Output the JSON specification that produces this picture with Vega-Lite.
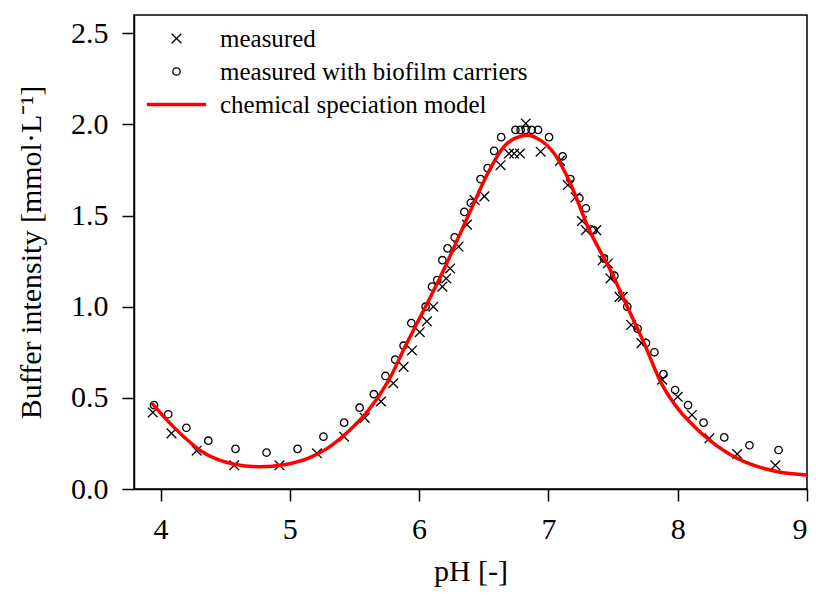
{
  "$schema": "https://vega.github.io/schema/vega-lite/v6.json",
  "autosize": {"type": "none"},
  "padding": {"left": 134, "top": 15, "right": 9, "bottom": 106},
  "width": 673,
  "height": 474,
  "background": "white",
  "datasets": {
    "points": [
      {"series": "measured", "pH": 3.94, "value": 0.42},
      {"series": "measured", "pH": 4.085, "value": 0.305},
      {"series": "measured", "pH": 4.28, "value": 0.21},
      {"series": "measured", "pH": 4.57, "value": 0.13},
      {"series": "measured", "pH": 4.92, "value": 0.13},
      {"series": "measured", "pH": 5.21, "value": 0.196},
      {"series": "measured", "pH": 5.42, "value": 0.287},
      {"series": "measured", "pH": 5.58, "value": 0.39},
      {"series": "measured", "pH": 5.705, "value": 0.48},
      {"series": "measured", "pH": 5.8, "value": 0.58},
      {"series": "measured", "pH": 5.88, "value": 0.67},
      {"series": "measured", "pH": 5.945, "value": 0.76},
      {"series": "measured", "pH": 6.005, "value": 0.86},
      {"series": "measured", "pH": 6.06, "value": 0.92},
      {"series": "measured", "pH": 6.11, "value": 1.0},
      {"series": "measured", "pH": 6.18, "value": 1.11},
      {"series": "measured", "pH": 6.21, "value": 1.155},
      {"series": "measured", "pH": 6.24, "value": 1.21},
      {"series": "measured", "pH": 6.305, "value": 1.33},
      {"series": "measured", "pH": 6.37, "value": 1.45},
      {"series": "measured", "pH": 6.43, "value": 1.585},
      {"series": "measured", "pH": 6.505, "value": 1.605},
      {"series": "measured", "pH": 6.63, "value": 1.776},
      {"series": "measured", "pH": 6.695, "value": 1.84},
      {"series": "measured", "pH": 6.735, "value": 1.84},
      {"series": "measured", "pH": 6.78, "value": 1.84},
      {"series": "measured", "pH": 6.825, "value": 2.005},
      {"series": "measured", "pH": 6.94, "value": 1.85},
      {"series": "measured", "pH": 7.09, "value": 1.8},
      {"series": "measured", "pH": 7.15, "value": 1.667},
      {"series": "measured", "pH": 7.21, "value": 1.6},
      {"series": "measured", "pH": 7.26, "value": 1.47},
      {"series": "measured", "pH": 7.29, "value": 1.42},
      {"series": "measured", "pH": 7.37, "value": 1.42},
      {"series": "measured", "pH": 7.42, "value": 1.255},
      {"series": "measured", "pH": 7.46, "value": 1.237},
      {"series": "measured", "pH": 7.48, "value": 1.155},
      {"series": "measured", "pH": 7.55, "value": 1.054},
      {"series": "measured", "pH": 7.575, "value": 1.054},
      {"series": "measured", "pH": 7.64, "value": 0.9},
      {"series": "measured", "pH": 7.72, "value": 0.8},
      {"series": "measured", "pH": 7.88, "value": 0.6},
      {"series": "measured", "pH": 8.0, "value": 0.506},
      {"series": "measured", "pH": 8.11, "value": 0.406},
      {"series": "measured", "pH": 8.245, "value": 0.278},
      {"series": "measured", "pH": 8.46, "value": 0.192},
      {"series": "measured", "pH": 8.755, "value": 0.13},
      {"series": "measured with biofilm carriers", "pH": 3.95, "value": 0.46},
      {"series": "measured with biofilm carriers", "pH": 4.06, "value": 0.41},
      {"series": "measured with biofilm carriers", "pH": 4.2, "value": 0.336},
      {"series": "measured with biofilm carriers", "pH": 4.37, "value": 0.265},
      {"series": "measured with biofilm carriers", "pH": 4.58, "value": 0.22},
      {"series": "measured with biofilm carriers", "pH": 4.82, "value": 0.2},
      {"series": "measured with biofilm carriers", "pH": 5.06, "value": 0.22},
      {"series": "measured with biofilm carriers", "pH": 5.26, "value": 0.287},
      {"series": "measured with biofilm carriers", "pH": 5.42, "value": 0.364},
      {"series": "measured with biofilm carriers", "pH": 5.54, "value": 0.446},
      {"series": "measured with biofilm carriers", "pH": 5.65, "value": 0.52},
      {"series": "measured with biofilm carriers", "pH": 5.74, "value": 0.62},
      {"series": "measured with biofilm carriers", "pH": 5.815, "value": 0.71},
      {"series": "measured with biofilm carriers", "pH": 5.88, "value": 0.786},
      {"series": "measured with biofilm carriers", "pH": 5.94, "value": 0.91},
      {"series": "measured with biofilm carriers", "pH": 6.05, "value": 1.0},
      {"series": "measured with biofilm carriers", "pH": 6.1, "value": 1.11},
      {"series": "measured with biofilm carriers", "pH": 6.14, "value": 1.146},
      {"series": "measured with biofilm carriers", "pH": 6.18, "value": 1.255},
      {"series": "measured with biofilm carriers", "pH": 6.22, "value": 1.32},
      {"series": "measured with biofilm carriers", "pH": 6.275, "value": 1.38},
      {"series": "measured with biofilm carriers", "pH": 6.35, "value": 1.52},
      {"series": "measured with biofilm carriers", "pH": 6.4, "value": 1.57},
      {"series": "measured with biofilm carriers", "pH": 6.475, "value": 1.7},
      {"series": "measured with biofilm carriers", "pH": 6.53, "value": 1.76},
      {"series": "measured with biofilm carriers", "pH": 6.58, "value": 1.855},
      {"series": "measured with biofilm carriers", "pH": 6.635, "value": 1.93},
      {"series": "measured with biofilm carriers", "pH": 6.745, "value": 1.97},
      {"series": "measured with biofilm carriers", "pH": 6.785, "value": 1.97},
      {"series": "measured with biofilm carriers", "pH": 6.825, "value": 1.97},
      {"series": "measured with biofilm carriers", "pH": 6.87, "value": 1.97},
      {"series": "measured with biofilm carriers", "pH": 6.92, "value": 1.97},
      {"series": "measured with biofilm carriers", "pH": 7.005, "value": 1.93},
      {"series": "measured with biofilm carriers", "pH": 7.11, "value": 1.825},
      {"series": "measured with biofilm carriers", "pH": 7.17, "value": 1.7},
      {"series": "measured with biofilm carriers", "pH": 7.24, "value": 1.595},
      {"series": "measured with biofilm carriers", "pH": 7.29, "value": 1.54},
      {"series": "measured with biofilm carriers", "pH": 7.35, "value": 1.42},
      {"series": "measured with biofilm carriers", "pH": 7.43, "value": 1.265},
      {"series": "measured with biofilm carriers", "pH": 7.51, "value": 1.17},
      {"series": "measured with biofilm carriers", "pH": 7.61, "value": 1.0},
      {"series": "measured with biofilm carriers", "pH": 7.69, "value": 0.88},
      {"series": "measured with biofilm carriers", "pH": 7.755, "value": 0.8},
      {"series": "measured with biofilm carriers", "pH": 7.82, "value": 0.75},
      {"series": "measured with biofilm carriers", "pH": 7.89, "value": 0.63},
      {"series": "measured with biofilm carriers", "pH": 7.98, "value": 0.543},
      {"series": "measured with biofilm carriers", "pH": 8.08, "value": 0.46},
      {"series": "measured with biofilm carriers", "pH": 8.2, "value": 0.364},
      {"series": "measured with biofilm carriers", "pH": 8.36, "value": 0.283},
      {"series": "measured with biofilm carriers", "pH": 8.555, "value": 0.24},
      {"series": "measured with biofilm carriers", "pH": 8.78, "value": 0.214}
    ],
    "model": [
      {"series": "chemical speciation model", "pH": 3.935, "value": 0.47},
      {"series": "chemical speciation model", "pH": 4.05, "value": 0.378},
      {"series": "chemical speciation model", "pH": 4.18, "value": 0.287},
      {"series": "chemical speciation model", "pH": 4.31, "value": 0.21},
      {"series": "chemical speciation model", "pH": 4.44, "value": 0.162},
      {"series": "chemical speciation model", "pH": 4.57, "value": 0.136},
      {"series": "chemical speciation model", "pH": 4.775, "value": 0.122},
      {"series": "chemical speciation model", "pH": 4.955, "value": 0.133},
      {"series": "chemical speciation model", "pH": 5.14, "value": 0.168},
      {"series": "chemical speciation model", "pH": 5.29, "value": 0.223},
      {"series": "chemical speciation model", "pH": 5.45, "value": 0.314},
      {"series": "chemical speciation model", "pH": 5.6, "value": 0.424},
      {"series": "chemical speciation model", "pH": 5.76, "value": 0.59},
      {"series": "chemical speciation model", "pH": 5.905, "value": 0.8},
      {"series": "chemical speciation model", "pH": 6.035, "value": 0.98},
      {"series": "chemical speciation model", "pH": 6.165, "value": 1.164},
      {"series": "chemical speciation model", "pH": 6.295, "value": 1.365},
      {"series": "chemical speciation model", "pH": 6.4, "value": 1.53},
      {"series": "chemical speciation model", "pH": 6.53, "value": 1.73},
      {"series": "chemical speciation model", "pH": 6.655, "value": 1.877},
      {"series": "chemical speciation model", "pH": 6.785, "value": 1.935},
      {"series": "chemical speciation model", "pH": 6.84, "value": 1.94},
      {"series": "chemical speciation model", "pH": 6.915, "value": 1.923},
      {"series": "chemical speciation model", "pH": 7.045, "value": 1.84},
      {"series": "chemical speciation model", "pH": 7.17, "value": 1.676},
      {"series": "chemical speciation model", "pH": 7.31, "value": 1.43},
      {"series": "chemical speciation model", "pH": 7.48, "value": 1.2},
      {"series": "chemical speciation model", "pH": 7.61, "value": 1.0},
      {"series": "chemical speciation model", "pH": 7.74, "value": 0.8},
      {"series": "chemical speciation model", "pH": 7.87, "value": 0.585},
      {"series": "chemical speciation model", "pH": 8.0, "value": 0.442},
      {"series": "chemical speciation model", "pH": 8.13, "value": 0.342},
      {"series": "chemical speciation model", "pH": 8.26, "value": 0.26},
      {"series": "chemical speciation model", "pH": 8.39, "value": 0.196},
      {"series": "chemical speciation model", "pH": 8.515, "value": 0.15},
      {"series": "chemical speciation model", "pH": 8.645, "value": 0.117},
      {"series": "chemical speciation model", "pH": 8.775, "value": 0.095},
      {"series": "chemical speciation model", "pH": 9.0, "value": 0.077}
    ]
  },
  "layer": [
    {
      "data": {"name": "points"},
      "mark": {"type": "point", "filled": false, "size": 55, "strokeWidth": 1.3, "opacity": 1},
      "encoding": {
        "x": {"field": "pH", "type": "quantitative"},
        "y": {"field": "value", "type": "quantitative"},
        "shape": {
          "field": "series", "type": "nominal",
          "scale": {
            "domain": ["measured", "measured with biofilm carriers", "chemical speciation model"],
            "range": ["M-1.3,-1.3L1.3,1.3M-1.3,1.3L1.3,-1.3", "circle", "M-8,-0.3L8,-0.3M-8,0L8,0M-8,0.3L8,0.3"]
          }
        },
        "color": {
          "field": "series", "type": "nominal",
          "scale": {
            "domain": ["measured", "measured with biofilm carriers", "chemical speciation model"],
            "range": ["black", "black", "#ff0000"]
          }
        }
      }
    },
    {
      "data": {"name": "model"},
      "mark": {"type": "line", "strokeWidth": 3.5, "interpolate": "monotone"},
      "encoding": {
        "x": {
          "field": "pH", "type": "quantitative",
          "scale": {"domain": [3.795, 9], "nice": false, "zero": false},
          "axis": {"values": [4, 5, 6, 7, 8, 9], "title": "pH [-]", "format": "d"}
        },
        "y": {
          "field": "value", "type": "quantitative",
          "scale": {"domain": [0, 2.6], "nice": false},
          "axis": {"values": [0, 0.5, 1, 1.5, 2, 2.5], "format": ".1f", "title": "Buffer intensity [mmol·L⁻¹]"}
        },
        "color": {
          "field": "series", "type": "nominal",
          "scale": {
            "domain": ["measured", "measured with biofilm carriers", "chemical speciation model"],
            "range": ["black", "black", "#ff0000"]
          }
        }
      }
    }
  ],
  "config": {
    "font": "Liberation Serif",
    "view": {"stroke": "black", "strokeWidth": 1.5},
    "axis": {
      "grid": false,
      "domainColor": "black",
      "domainWidth": 1.5,
      "tickColor": "black",
      "tickWidth": 1.5,
      "tickSize": 12,
      "labelFont": "Liberation Serif",
      "labelFontSize": 30,
      "labelColor": "black",
      "titleFont": "Liberation Serif",
      "titleFontSize": 30,
      "titleFontWeight": "normal",
      "titleColor": "black"
    },
    "axisX": {"labelPadding": 13, "titlePadding": 12},
    "axisY": {"labelPadding": 14, "titlePadding": 24},
    "legend": {
      "title": null,
      "orient": "none",
      "legendX": 30,
      "legendY": 11,
      "labelFont": "Liberation Serif",
      "labelFontSize": 25,
      "labelColor": "black",
      "labelLimit": 0,
      "labelOffset": 31,
      "rowPadding": 7,
      "symbolSize": 55,
      "symbolStrokeWidth": 1.3,
      "symbolStrokeColor": "black"
    }
  }
}
